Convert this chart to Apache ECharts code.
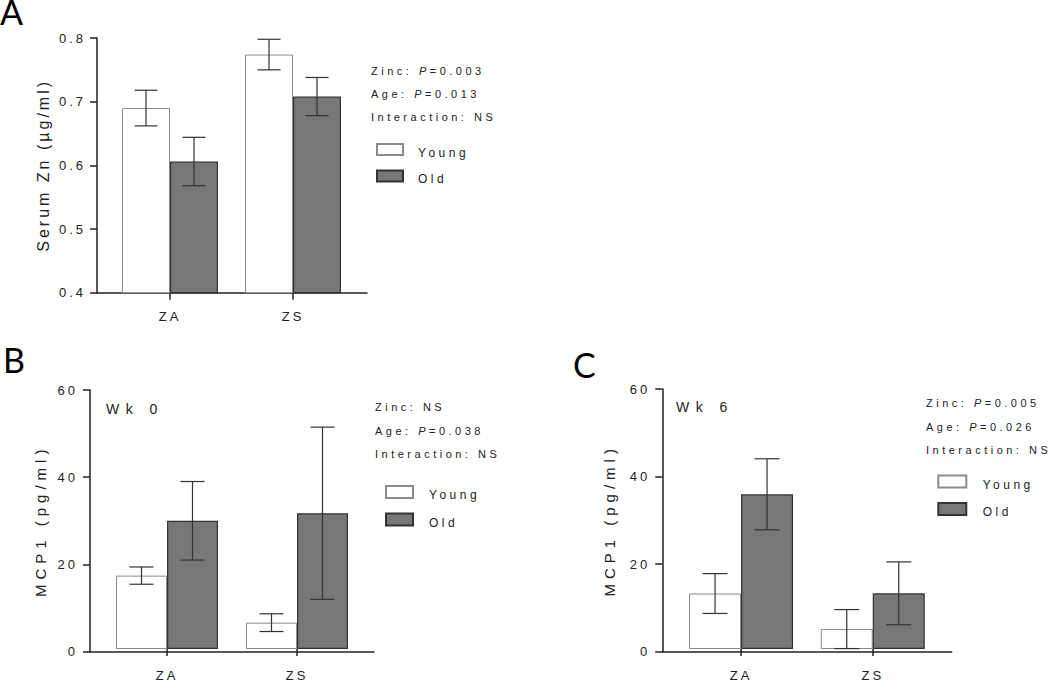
<!DOCTYPE html>
<html>
<head>
<meta charset="utf-8">
<style>
html,body{margin:0;padding:0;background:#fff}
#main{width:1050px;height:682px}
</style>
<script src="https://cdn.jsdelivr.net/npm/echarts@6.0.0/dist/echarts.min.js"></script>
</head>
<body>
<div id="main"></div>
<script>
// ---------------- data ----------------
const categories = ['ZA', 'ZS'];
const seriesNames = ['Young', 'Old'];

// Panel A: serum zinc (µg/ml)
const zincYoungMean = [0.690, 0.774];
const zincYoungSem  = [0.028, 0.024];
const zincOldMean   = [0.606, 0.708];
const zincOldSem    = [0.038, 0.030];
const zincRange = [0.4, 0.8];
const zincStep = 0.1;
const statsA = [['Zinc: ', '0.003'], ['Age: ', '0.013'], ['Interaction: NS', null]];

// Panel B: MCP1 week 0 (pg/ml)
const wk0YoungMean = [17.0, 6.1];
const wk0YoungSem  = [2.0, 2.05];
const wk0OldMean   = [29.7, 31.45];
const wk0OldSem    = [9.1, 19.95];
const statsB = [['Zinc: NS', null], ['Age: ', '0.038'], ['Interaction: NS', null]];

// Panel C: MCP1 week 6 (pg/ml)
const wk6YoungMean = [12.8, 4.6];
const wk6YoungSem  = [4.6, 4.5];
const wk6OldMean   = [35.7, 12.85];
const wk6OldSem    = [8.2, 7.25];
const statsC = [['Zinc: ', '0.005'], ['Age: ', '0.026'], ['Interaction: NS', null]];

const mcpRange = [0, 60];
const mcpStep = 20;

// ---------------- text styling (GraphPad-like letter spacing) ----------------
const FONT = 'Liberation Sans';
const INK = '#222';
const SPACING = {'13': 3, '16': 3, '15': 5, '14': 6.5, '11': 3.5, '12': 3.5};
(function () {
  let css = '';
  Object.keys(SPACING).forEach(function (k) {
    css += '#main text[style*="' + k + 'px"]{letter-spacing:' + SPACING[k] + 'px}\n';
  });
  const st = document.createElement('style');
  st.textContent = css;
  document.head.appendChild(st);
  const mctx = document.createElement('canvas').getContext('2d');
  if (echarts.setPlatformAPI) {
    echarts.setPlatformAPI({
      measureText: function (text, font) {
        mctx.font = font || '12px sans-serif';
        text = String(text);
        const w = mctx.measureText(text).width;
        if (text === '国') return {width: w};
        const m = /(\d+(?:\.\d+)?)px/.exec(font || '');
        const sp = m ? (SPACING[m[1]] || 0) : 0;
        return {width: w + sp * text.length};
      }
    });
  }
})();

// ---------------- layout ----------------
const panels = [
  {letter: 'A', lx: 0, ly: -6,
   frame: {left: 97, top: 38, width: 270, height: 254.7},
   bars: {left: 108.5, width: 246}, barW: 48, cap: 11.5,
   range: zincRange, step: zincStep,
   yName: 'Serum Zn (µg/ml)', nameSize: 16, nameGap: 46, labelMargin: 11, xMargin: 17.5,
   young: [zincYoungMean, zincYoungSem], old: [zincOldMean, zincOldSem],
   stats: statsA, statsPos: [371, 59],
   legend: {left: 376, top: 143, w: 26, h: 11, gap: 11, pad: 10},
   week: null},
  {letter: 'B', lx: 3, ly: 342.5,
   frame: {left: 90, top: 390, width: 284, height: 261.7},
   bars: {left: 102, width: 260}, barW: 51, cap: 12,
   range: mcpRange, step: mcpStep,
   yName: 'MCP1 (pg/ml)', nameSize: 15, nameGap: 42, labelMargin: 12, xMargin: 20,
   young: [wk0YoungMean, wk0YoungSem], old: [wk0OldMean, wk0OldSem],
   stats: statsB, statsPos: [375, 395.7],
   legend: {left: 385, top: 485, w: 27, h: 12, gap: 11.6, pad: 11},
   week: {text: 'Wk 0', left: 106, top: 402}},
  {letter: 'C', lx: 573, ly: 347.5,
   frame: {left: 662.3, top: 389, width: 289.4, height: 262.7},
   bars: {left: 675.2, width: 263.4}, barW: 52, cap: 12.5,
   range: mcpRange, step: mcpStep,
   yName: 'MCP1 (pg/ml)', nameSize: 15, nameGap: 45, labelMargin: 12, xMargin: 20,
   young: [wk6YoungMean, wk6YoungSem], old: [wk6OldMean, wk6OldSem],
   stats: statsC, statsPos: [926, 391.7],
   legend: {left: 937.3, top: 474.6, w: 28, h: 12, gap: 11.3, pad: 11.4},
   week: {text: 'Wk 6', left: 676, top: 399.7}}
];

const youngStyle = {color: '#ffffff', borderColor: '#8a8a8a', borderWidth: 1};
const oldStyle = {color: '#777777', borderColor: '#333333', borderWidth: 1.2};

function statsText(rows) {
  return rows.map(function (r) {
    return r[1] == null ? '{n|' + r[0] + '}' : '{n|' + r[0] + '}{i|P}{n|=' + r[1] + '}';
  }).join('\n');
}

function errorSeries(gi, mean, sem, side, barW, cap) {
  return {
    type: 'custom', xAxisIndex: gi, yAxisIndex: gi, silent: true, z: 10,
    data: mean.map(function (m, i) { return [i, m, sem[i]]; }),
    renderItem: function (params, api) {
      const i = api.value(0), m = api.value(1), s = api.value(2);
      const hi = api.coord([i, m + s]);
      const lo = api.coord([i, m - s]);
      const x = hi[0] + side * barW / 2;
      const st = {stroke: '#333', lineWidth: 1.2};
      return {type: 'group', children: [
        {type: 'line', shape: {x1: x, y1: hi[1], x2: x, y2: lo[1]}, style: st},
        {type: 'line', shape: {x1: x - cap, y1: hi[1], x2: x + cap, y2: hi[1]}, style: st},
        {type: 'line', shape: {x1: x - cap, y1: lo[1], x2: x + cap, y2: lo[1]}, style: st}
      ]};
    }
  };
}

const option = {
  backgroundColor: '#ffffff',
  animation: false,
  title: [], legend: [], grid: [], xAxis: [], yAxis: [], series: []
};

panels.forEach(function (p, k) {
  const gFrame = 2 * k, gBar = 2 * k + 1;
  option.title.push({text: p.letter, left: p.lx, top: p.ly, padding: 0,
    textStyle: {fontFamily: 'Lato', fontSize: 34, fontWeight: 'normal', color: '#000'}});
  if (p.week) {
    option.title.push({text: p.week.text, left: p.week.left, top: p.week.top, padding: 0,
      textStyle: {fontFamily: FONT, fontSize: 14, fontWeight: 'normal', color: INK}});
  }
  option.title.push({text: statsText(p.stats), left: p.statsPos[0], top: p.statsPos[1], padding: 0,
    textStyle: {fontFamily: FONT, fontSize: 11, fontWeight: 'normal', color: INK, lineHeight: 23.3,
      rich: {
        n: {fontFamily: FONT, fontSize: 11, color: INK, lineHeight: 23.3},
        i: {fontFamily: FONT, fontSize: 11, fontStyle: 'italic', color: INK, lineHeight: 23.3}
      }}});
  option.legend.push({data: seriesNames, orient: 'vertical', left: p.legend.left, top: p.legend.top,
    padding: 0, itemWidth: p.legend.w, itemHeight: p.legend.h, itemGap: p.legend.gap, icon: 'rect',
    selectedMode: false, formatter: '{t|{name}}',
    textStyle: {fontFamily: FONT, fontSize: 12, color: INK,
      rich: {t: {fontFamily: FONT, fontSize: 12, color: INK, padding: [6, 0, 0, p.legend.pad]}}}});

  // frame grid: axis lines and y scale
  option.grid.push({left: p.frame.left, top: p.frame.top, width: p.frame.width, height: p.frame.height, containLabel: false});
  option.xAxis.push({type: 'value', gridIndex: gFrame, min: 0, max: 1,
    axisLine: {show: true, onZero: false, lineStyle: {color: INK, width: 1.5}},
    axisTick: {show: false}, axisLabel: {show: false}, splitLine: {show: false}});
  option.yAxis.push({type: 'value', gridIndex: gFrame, min: p.range[0], max: p.range[1], interval: p.step,
    name: p.yName, nameLocation: 'middle', nameGap: p.nameGap,
    nameTextStyle: {fontFamily: FONT, fontSize: p.nameSize, color: INK},
    axisLine: {show: true, onZero: false, lineStyle: {color: INK, width: 1.5}},
    axisTick: {show: true, length: 7, lineStyle: {color: INK, width: 1.5}},
    axisLabel: {show: true, margin: p.labelMargin, fontFamily: FONT, fontSize: 13, color: INK},
    splitLine: {show: false}});

  // bar grid: categories
  option.grid.push({left: p.bars.left, top: p.frame.top, width: p.bars.width, height: p.frame.height, containLabel: false});
  option.xAxis.push({type: 'category', gridIndex: gBar, data: categories, boundaryGap: true,
    axisLine: {show: false},
    axisTick: {show: true, alignWithLabel: true, length: 7, lineStyle: {color: INK, width: 1.5}},
    axisLabel: {margin: p.xMargin, fontFamily: FONT, fontSize: 13, color: INK},
    splitLine: {show: false}});
  option.yAxis.push({type: 'value', gridIndex: gBar, min: p.range[0], max: p.range[1], interval: p.step, show: false});

  option.series.push({name: 'Young', type: 'bar', xAxisIndex: gBar, yAxisIndex: gBar,
    data: p.young[0], barWidth: p.barW, barGap: '0%', itemStyle: youngStyle, silent: true});
  option.series.push({name: 'Old', type: 'bar', xAxisIndex: gBar, yAxisIndex: gBar,
    data: p.old[0], barWidth: p.barW, barGap: '0%', itemStyle: oldStyle, silent: true});
  option.series.push(errorSeries(gBar, p.young[0], p.young[1], -1, p.barW, p.cap));
  option.series.push(errorSeries(gBar, p.old[0], p.old[1], 1, p.barW, p.cap));
});

const chart = echarts.init(document.getElementById('main'), null, {renderer: 'svg', width: 1050, height: 682});
chart.setOption(option);
</script>
</body>
</html>
